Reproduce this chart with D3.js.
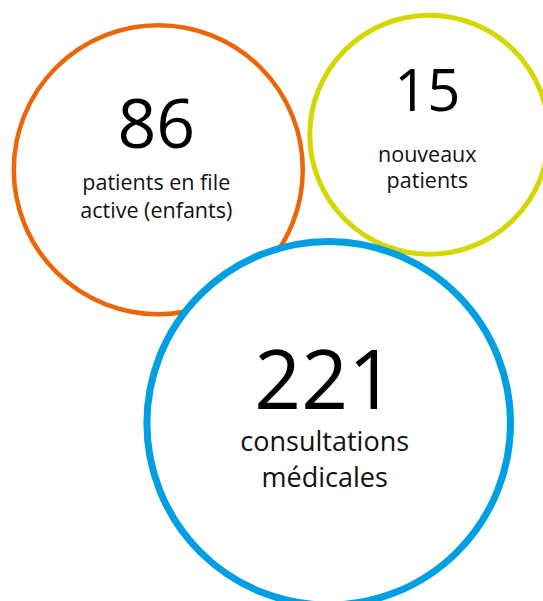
<!DOCTYPE html>
<html>
<head>
<meta charset="utf-8">
<script src="https://cdn.jsdelivr.net/npm/d3@7"></script>
<style>
  html, body { margin: 0; padding: 0; background: #fff; }
</style>
</head>
<body>
<svg id="bubbles" width="543" height="601"></svg>
<script>
            // values and labels
            var values = [86, 15, 221];
            var labels = [["patients en file", "active (enfants)"],
                          ["nouveaux", "patients"],
                          ["consultations", "médicales"]];

            // layout (bubble centres, stroke, colours)
            var centers = [[158.3, 169.7], [429.3, 134.7], [328.7, 423.3]];
            var colors = ["#EC6608", "#D3D800", "#009FE3"];
            var strokes = [4.5, 5, 7];
            var textDx = [-2, -2, -4];

            // number size, label size, number baseline, first label baseline, line gap
            var numSize = [68, 58, 82];
            var labelSize = [21.5, 21.5, 27];
            var numBase = [-21.5, -24, -14];
            var labelBase = [20.5, 27, 27.5];
            var lineGap = [28, 26.7, 36];

            var r = d3.scaleLinear()
                      .domain([15, 86, 221])
                      .range([119.5, 144.5, 181.8]);

            var svg = d3.select("#bubbles");

            var g = svg.selectAll("g")
               .data(values)
               .enter()
               .append("g")
               .attr("transform", function(d, i) {
                       return "translate(" + centers[i][0] + "," + centers[i][1] + ")";
               });

            g.append("circle")
               .attr("r", function(d) { return r(d); })
               .attr("fill", "#fff")
               .attr("stroke", function(d, i) { return colors[i]; })
               .attr("stroke-width", function(d, i) { return strokes[i]; });

            g.append("text")
               .text(function(d) { return d; })
               .attr("text-anchor", "middle")
               .attr("x", function(d, i) { return textDx[i]; })
               .attr("y", function(d, i) { return numBase[i]; })
               .attr("font-family", "'Open Sans', sans-serif")
               .attr("font-size", function(d, i) { return numSize[i] + "px"; })
               .attr("fill", "#000");

            g.each(function(d, i) {
                d3.select(this).selectAll("text.label")
                   .data(labels[i])
                   .enter()
                   .append("text")
                   .attr("class", "label")
                   .text(function(t) { return t; })
                   .attr("text-anchor", "middle")
                   .attr("x", textDx[i])
                   .attr("y", function(t, j) { return labelBase[i] + j * lineGap[i]; })
                   .attr("font-family", "'Open Sans', sans-serif")
                   .attr("font-size", labelSize[i] + "px")
                   .attr("fill", "#111");
            });
</script>
</body>
</html>
